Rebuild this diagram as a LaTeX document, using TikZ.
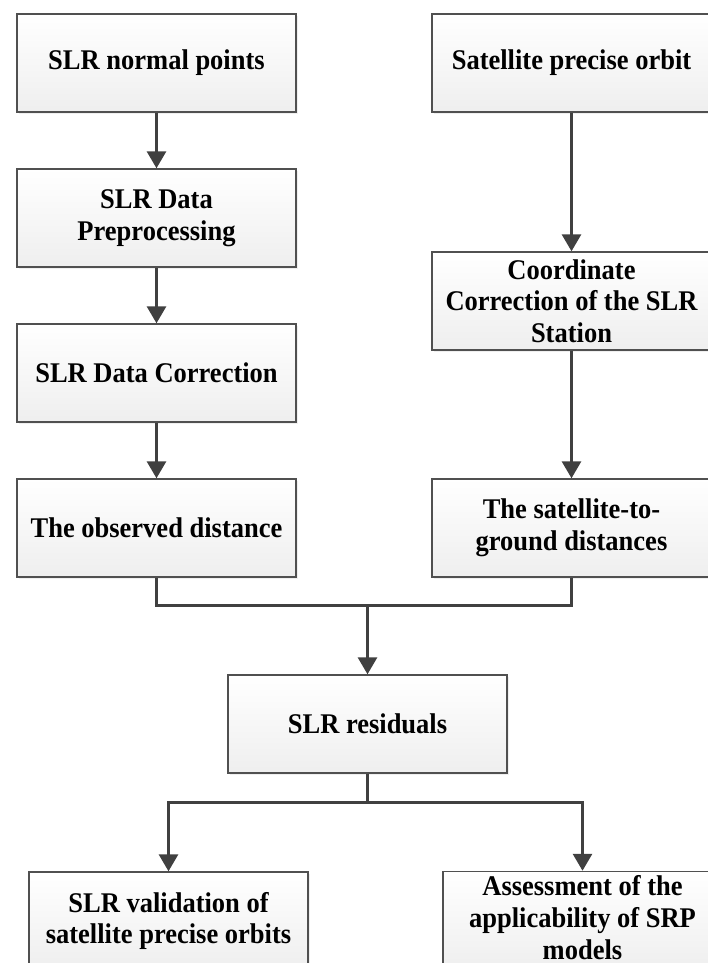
\documentclass[tikz,border=0pt]{standalone}
\usepackage{fontspec}
\setmainfont{Liberation Serif}[FakeStretch=0.93]
\usetikzlibrary{arrows.meta,shadows}
\definecolor{linecol}{HTML}{404040}
\definecolor{boxline}{HTML}{505050}
\tikzset{
  flowbox/.style={rectangle, draw=boxline, line width=1.4pt,
    top color=white, bottom color=gray!13,
    drop shadow={shadow xshift=2pt, shadow yshift=-2pt, fill=gray!25, opacity=0.5},
    minimum width=279pt, minimum height=98pt, inner sep=2pt,
    align=center, text=black,
    font=\bfseries\fontsize{28.5pt}{31.7pt}\selectfont},
  conn/.style={draw=linecol, line width=3pt},
  arr/.style={conn, -{Triangle[length=17pt,width=19pt]}}
}
\begin{document}
\begin{tikzpicture}[x=1pt,y=-1pt]
\useasboundingbox (0,0) rectangle (708,963);
\begin{scope}
\clip (0,0) rectangle (708,963);
\node[flowbox] (L1) at (156.5,63) {SLR normal points};
\node[flowbox] (L2) at (156.5,218) {SLR Data\\Preprocessing};
\node[flowbox] (L3) at (156.5,373) {SLR Data Correction};
\node[flowbox] (L4) at (156.5,528) {The observed distance};
\node[flowbox] (R1) at (571.5,63) {Satellite precise orbit};
\node[flowbox] (R2) at (571.5,301) {Coordinate\\Correction of the SLR\\Station};
\node[flowbox] (R3) at (571.5,528) {The satellite-to-\\ground distances};
\node[flowbox] (Res) at (367.5,724) {SLR residuals};
\node[flowbox] (B1) at (168.5,921) {SLR validation of\\satellite precise orbits};
\node[flowbox] (B2) at (582.5,921) {\raisebox{2pt}{\begin{tabular}{@{}c@{}}Assessment of the\\applicability of SRP\\models\end{tabular}}};
\coordinate (m) at (367.5,605);
\coordinate (s) at (367.5,802);
\draw[arr] (L1.south) -- (L2.north);
\draw[arr] (L2.south) -- (L3.north);
\draw[arr] (L3.south) -- (L4.north);
\draw[arr] (R1.south) -- (R2.north);
\draw[arr] (R2.south) -- (R3.north);
\draw[conn] (L4.south) |- (m);
\draw[conn] (R3.south) |- (m);
\draw[arr] (m) -- (Res.north);
\draw[conn] (Res.south) -- (s);
\draw[arr] (s) -| (B1.north);
\draw[arr] (s) -| (B2.north);
\end{scope}
\end{tikzpicture}
\end{document}
